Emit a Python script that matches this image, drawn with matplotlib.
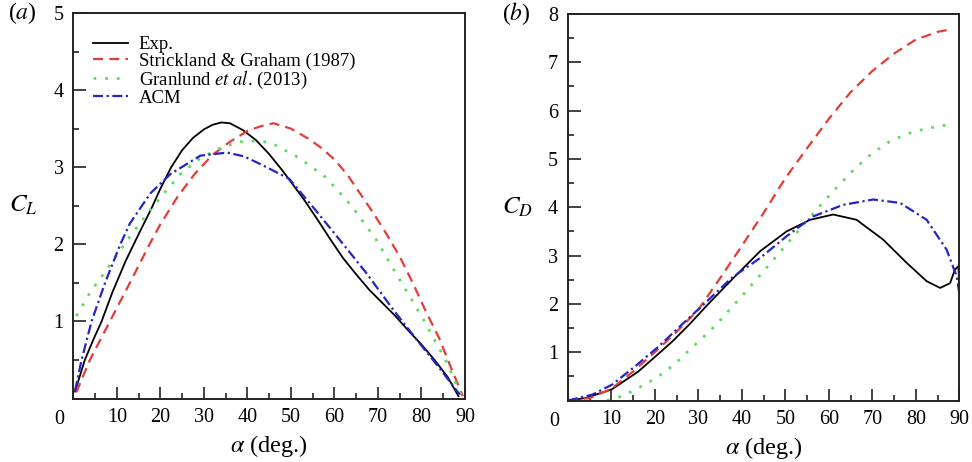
import numpy as np
import matplotlib
matplotlib.use('Agg')
from matplotlib import pyplot as plt
from matplotlib.ticker import MultipleLocator

plt.rcParams['font.family'] = ['Liberation Serif', 'DejaVu Serif']
plt.rcParams['mathtext.fontset'] = 'stix'

# ---- panel (a): lift coefficient ----
cl_exp_a = [0.4, 2.65, 4.5, 6.5, 9, 12, 15, 18, 20, 22.5, 25, 27.5, 30, 32, 34, 36, 39, 42,
            45, 48, 50, 53, 56, 59, 62, 65, 68, 71, 74, 77, 80, 83, 86, 88.5]
cl_exp = [0.09, 0.5, 0.75, 1.0, 1.38, 1.78, 2.13, 2.47, 2.72, 3.0, 3.22, 3.38, 3.49, 3.55, 3.58, 3.57, 3.48, 3.35,
          3.17, 2.96, 2.81, 2.58, 2.33, 2.07, 1.82, 1.61, 1.41, 1.24, 1.07, 0.88, 0.7, 0.5, 0.28, 0.03]

cl_sg_a = [0.7, 3.8, 8.4, 13, 17.7, 20, 24, 28, 32, 36, 40, 43, 46, 50, 54, 57, 60, 63, 66, 69, 72, 75, 78, 81, 84, 87, 89.5]
cl_sg = [0.08, 0.5, 1.0, 1.5, 2.02, 2.26, 2.62, 2.92, 3.16, 3.33, 3.47, 3.53, 3.57, 3.5, 3.37, 3.25, 3.1, 2.9,
         2.65, 2.4, 2.13, 1.84, 1.5, 1.13, 0.79, 0.37, 0.03]

cl_gr_a = [0.7, 3.8, 7, 10, 13, 17, 21, 24.6, 29.2, 34.6, 38.4, 42, 45.3, 51.9, 58, 64.2, 69.6, 75, 80.4, 85.8, 88.4, 89.5]
cl_gr = [1.07, 1.37, 1.62, 1.86, 2.1, 2.4, 2.67, 2.91, 3.12, 3.27, 3.33, 3.34, 3.32, 3.12, 2.87, 2.48, 2.06, 1.54,
         1.03, 0.47, 0.13, 0.02]

cl_acm_a = [0.4, 1.9, 4.2, 7.3, 10.8, 13, 17.7, 22.3, 29.2, 35.4, 39.2, 43, 49.6, 55.7, 61.9, 67.3, 73.4, 78.8, 84.2, 88.8]
cl_acm = [0.1, 0.5, 1.0, 1.5, 2.0, 2.27, 2.66, 2.91, 3.15, 3.19, 3.14, 3.04, 2.85, 2.44, 2.01, 1.63, 1.16, 0.77, 0.39, 0.05]

# ---- panel (b): drag coefficient ----
cd_exp_a = [0, 4, 10.1, 16.2, 20, 24, 28, 32, 38, 44.2, 50.3, 55.7, 61, 66.4, 72.5, 77.9, 82.5, 85.6, 87.9, 89, 89.8, 90]
cd_exp = [0, 0.05, 0.23, 0.6, 0.9, 1.22, 1.58, 1.97, 2.53, 3.09, 3.5, 3.74, 3.85, 3.74, 3.33, 2.85, 2.47, 2.33,
          2.43, 2.71, 2.78, 2.35]

cd_sg_a = [0, 5, 10, 15, 20, 25, 30, 35, 40, 45, 50, 55, 60, 65, 70, 75, 80, 85, 88]
cd_sg = [0, 0.05, 0.24, 0.6, 1.0, 1.42, 1.88, 2.53, 3.2, 3.88, 4.6, 5.22, 5.83, 6.38, 6.82, 7.18, 7.47, 7.63, 7.68]

cd_gr_a = [9, 12, 15, 19, 22, 25, 28, 31, 34, 37, 40, 43, 46, 50, 54, 58, 62, 66, 70, 74, 78, 82, 86, 88]
cd_gr = [0, 0.08, 0.2, 0.4, 0.57, 0.79, 1.05, 1.3, 1.56, 1.86, 2.16, 2.47, 2.78, 3.2, 3.62, 4.03, 4.43, 4.8,
         5.12, 5.36, 5.52, 5.62, 5.69, 5.71]

cd_acm_a = [0, 5.6, 10.2, 15.5, 20.9, 26.2, 31.6, 37.7, 44.2, 50.3, 56.4, 63.3, 70.2, 76.4, 82.5, 87.1, 89.4, 90]
cd_acm = [0, 0.12, 0.33, 0.71, 1.12, 1.57, 2.02, 2.54, 2.95, 3.4, 3.81, 4.05, 4.16, 4.09, 3.74, 3.12, 2.57, 2.23]

labels = ['Exp.', 'Strickland & Graham (1987)', r'Granlund $\it{et\ al}$. (2013)', 'ACM']

RED = '#e43c37'
GREEN = '#62d862'
BLUE = '#2424c8'


def style_axes(ax, ymax, ylab, panel):
    ax.set_xlim(0, 90)
    ax.set_ylim(0, ymax)
    ax.xaxis.set_minor_locator(MultipleLocator(5))
    ax.yaxis.set_minor_locator(MultipleLocator(0.5))
    ax.set_xticks(range(10, 100, 10))
    ax.set_yticks(range(1, ymax + 1))
    ax.tick_params(which='both', direction='in', top=False, right=False,
                   labelsize=14.5, color='#222222', width=1.2)
    ax.tick_params(which='major', length=9)
    ax.tick_params(which='minor', length=4.5)
    ax.tick_params(axis='x', pad=7)
    ax.tick_params(axis='y', pad=7)
    for s in ax.spines.values():
        s.set_linewidth(1.4)
        s.set_color('#222222')
    ax.annotate('0', xy=(0, 0), xycoords='axes fraction', xytext=(-14, -11),
                textcoords='offset pixels', ha='center', va='top', fontsize=14.5)
    ax.set_xlabel(r'$\alpha$ (deg.)', fontsize=17.5, labelpad=4)
    ax.set_ylabel(ylab, fontsize=18, rotation=0, labelpad=22, va='center')
    ax.text(-0.167, 1.0, panel, transform=ax.transAxes, fontsize=17, ha='left', va='center')


def draw(ax, a1, y1, a2, y2, a3, y3, a4, y4):
    ax.plot(a1, y1, color='black', lw=1.3, label=labels[0])
    ax.plot(a2, y2, color=RED, lw=1.6, dashes=(4.5, 2.8), label=labels[1])
    ax.plot(a3, y3, color=GREEN, lw=2.0, dashes=(1, 3.2), label=labels[2])
    ax.plot(a4, y4, color=BLUE, lw=1.6, dashes=(4.5, 1.6, 1, 1.6), label=labels[3])


fig = plt.figure(figsize=(9.72, 4.62), dpi=100)
ax1 = fig.add_axes([0.0754, 0.1374, 0.4030, 0.8345])
ax2 = fig.add_axes([0.5842, 0.1331, 0.4027, 0.8366])

draw(ax1, cl_exp_a, cl_exp, cl_sg_a, cl_sg, cl_gr_a, cl_gr, cl_acm_a, cl_acm)
draw(ax2, cd_exp_a, cd_exp, cd_sg_a, cd_sg, cd_gr_a, cd_gr, cd_acm_a, cd_acm)

style_axes(ax1, 5, r'$C_L$', r'($\it{a}$)')
style_axes(ax2, 8, r'$C_D$', r'($\it{b}$)')

ax1.legend(loc='upper left', frameon=False, fontsize=13.5, handlelength=1.9,
           labelspacing=-0.05, borderaxespad=0.0, handletextpad=0.55,
           borderpad=0.0, bbox_to_anchor=(0.05, 0.94))

fig.savefig('out.png', dpi=100)
